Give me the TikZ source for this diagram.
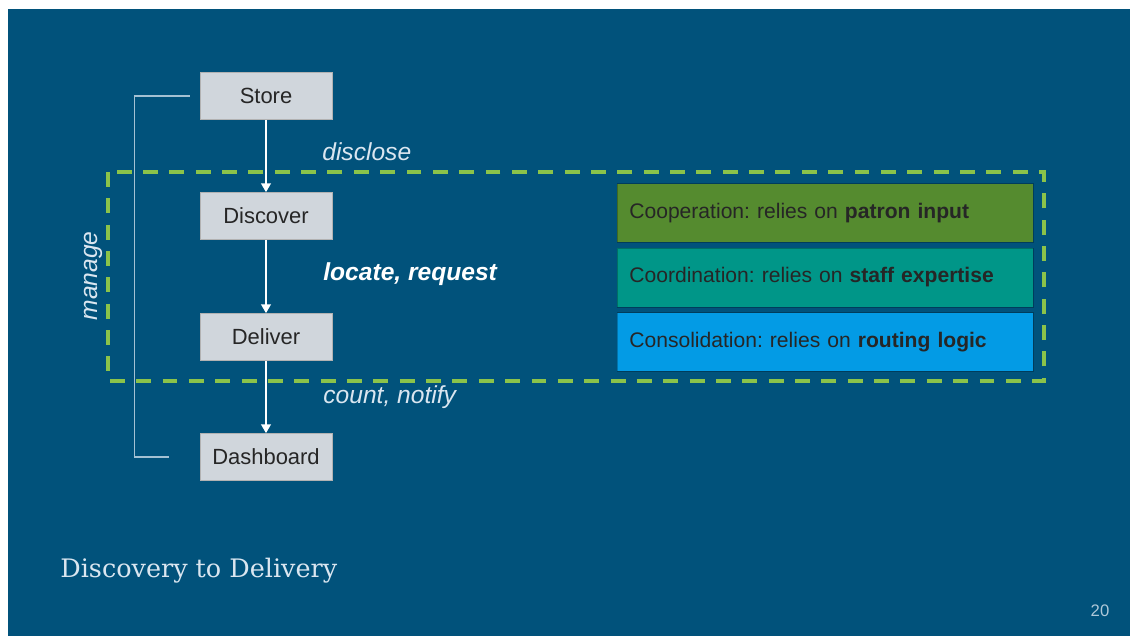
\documentclass[tikz,border=0pt]{standalone}
\usepackage{fontspec}
\setmainfont{Liberation Sans}
\newfontfamily\slabfont{DejaVu Serif}
\usetikzlibrary{arrows.meta}
\definecolor{slide}{RGB}{1,82,123}
\definecolor{stagegray}{RGB}{208,214,220}
\definecolor{coopgreen}{RGB}{85,139,47}
\definecolor{coordteal}{RGB}{0,150,136}
\definecolor{consblue}{RGB}{3,155,229}
\definecolor{scopegreen}{RGB}{139,195,74}
\definecolor{softwhite}{RGB}{218,230,240}
\frenchspacing

\begin{document}
\begin{tikzpicture}[
    x=.02cm, y=-.02cm,
    stage/.style={fill=stagegray, draw=black!30, line width=.4pt,
        minimum width=2.64cm, minimum height=.94cm, inner sep=0pt,
        font=\fontsize{12.5}{15}\selectfont, text=black!85},
    flow/.style={draw=white, line width=1pt,
        -{Triangle[length=5pt, width=5.5pt]}},
    verb/.style={font=\fontsize{14}{17}\selectfont\itshape, text=softwhite,
        anchor=west, inner sep=0pt},
    mode/.style={draw=black, draw opacity=.25, line width=.4pt,
        minimum height=1.18cm, text width=7.84cm, inner xsep=.24cm,
        align=left, anchor=west, font=\fontsize{12}{14}\selectfont,
        text=black!85},
    bracket/.style={draw=softwhite!75!slide, line width=.7pt},
    boundary/.style={draw=scopegreen, line width=2pt,
        dash pattern=on 8.5pt off 6.5pt},
]
    %% the slide
    \useasboundingbox (0, 0) rectangle (1130, 636);
    \fill[white] (0, 0) rectangle (1130, 636);
    \fill[slide] (8, 9) rectangle (1130, 636);

    %% the stages, top to bottom
    \node[stage] (store) at (266, 96) {Store};
    \node[stage] (discover) at (266, 216) {Discover};
    \node[stage] (deliver) at (266, 337) {Deliver};
    \node[stage] (dashboard) at (266, 457) {Dashboard};

    \draw[flow] (store) -- (discover);
    \draw[flow] (discover) -- (deliver);
    \draw[flow] (deliver) -- (dashboard);

    %% what happens between them
    \node[verb] (disclose) at (322, 152) {disclose};
    \node[verb, font=\fontsize{14}{17}\selectfont\bfseries\itshape,
        text=white] (locate) at (323, 274) {locate, request};
    \node[verb] (count) at (323, 397) {count, notify};

    %% manage runs along the whole chain
    \draw[bracket] ([xshift=-.2cm]store.west) -- ++(-55, 0)
        |- ([xshift=-.62cm]dashboard.west);
    \node[verb, anchor=center, rotate=90] (manage) at (93, 276) {manage};

    %% the dashed scope round discover and deliver
    \draw[boundary] (108, 172) rectangle (1044, 381);

    %% the three modes
    \node[mode, fill=coopgreen] (cooperation) at (617, 213)
        {Cooperation: relies on \textbf{patron input}};
    \node[mode, fill=coordteal] (coordination) at (617, 277.5)
        {Coordination: relies on \textbf{staff expertise}};
    \node[mode, fill=consblue] (consolidation) at (617, 342)
        {Consolidation: relies on \textbf{routing logic}};

    %% title and page number
    \node[font=\slabfont\fontsize{14.5}{17}\selectfont, text=softwhite,
        anchor=base west, inner sep=0pt] (title) at (60, 577)
        {Discovery to Delivery};
    \node[font=\fontsize{9.5}{11}\selectfont, text=softwhite!80!slide,
        inner sep=0pt] (page) at (1100, 611) {20};
\end{tikzpicture}
\end{document}
